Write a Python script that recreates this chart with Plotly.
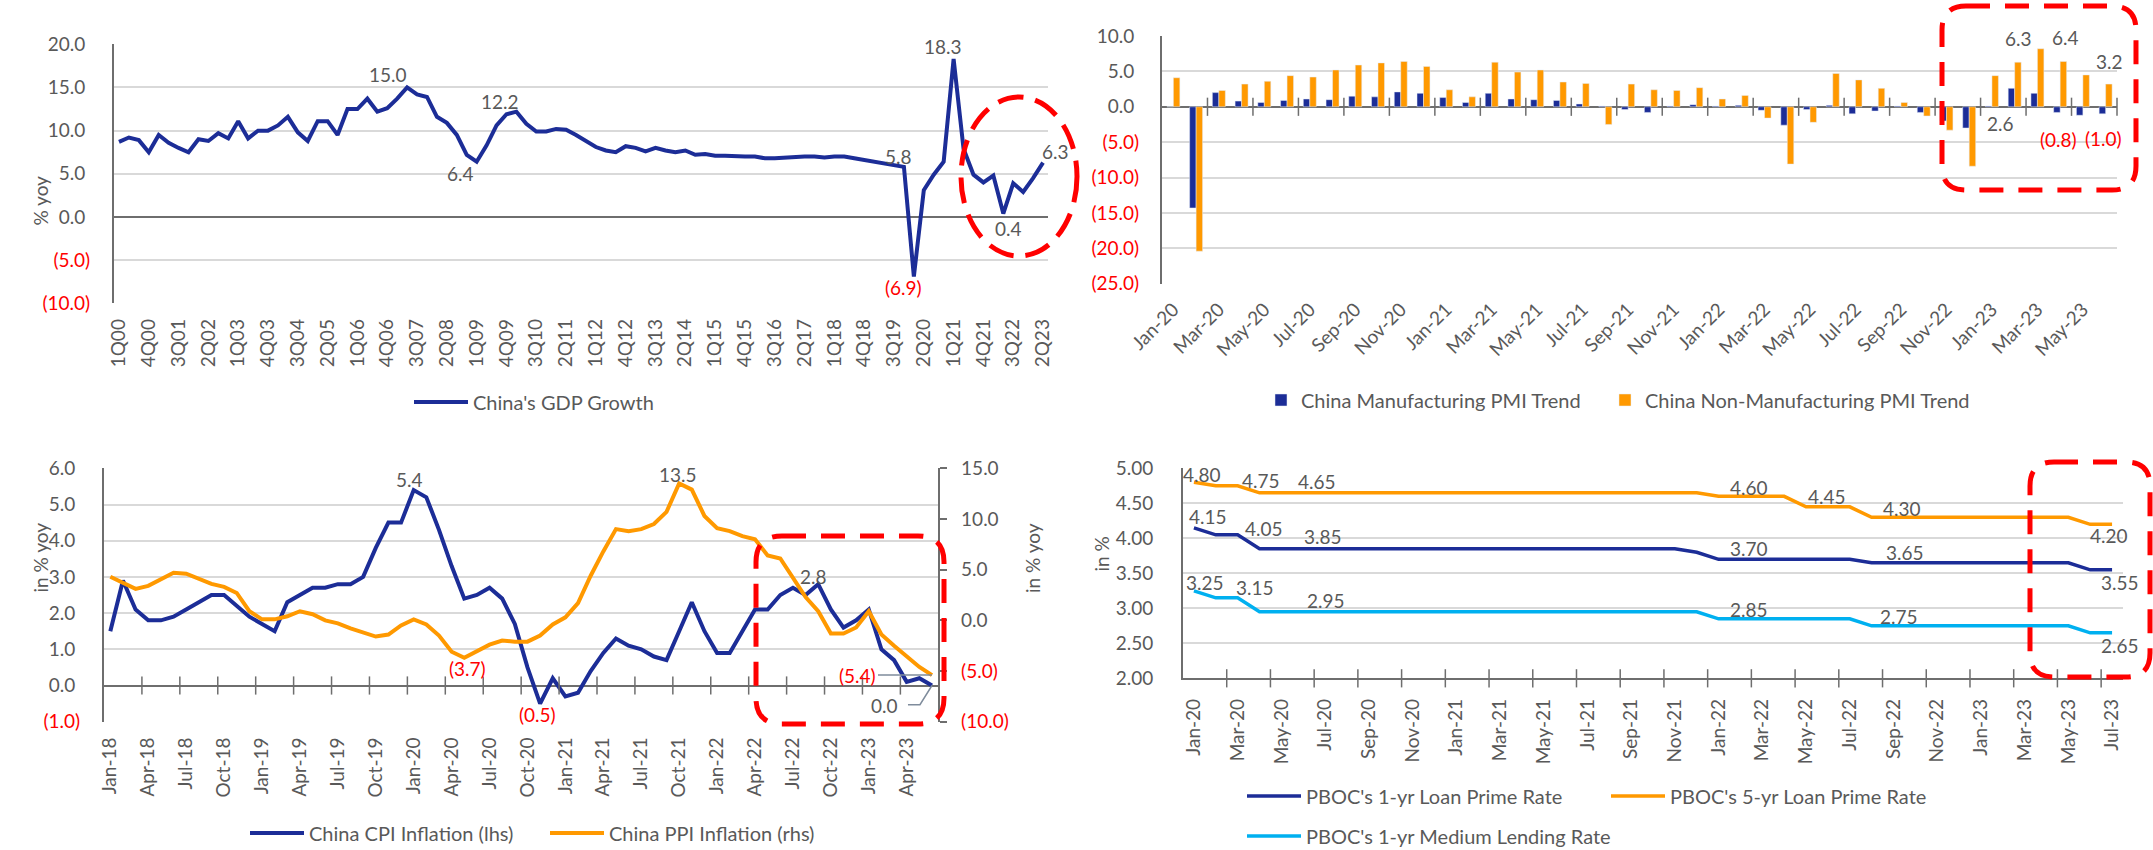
import plotly.graph_objects as go

W, H = 2153, 850
FONT = "Lato"
TXT = "#595959"
RED = "#FF0000"
NAVY = "#1C2D97"
ORANGE = "#FF9900"
SKY = "#00B0F0"
GRID = "#D9D9D9"
AXIS = "#6E6E6E"
LEADER = "#7F8C9C"
TICK_SIZE = 19
LABEL_SIZE = 19
LEGEND_SIZE = 20

MONTHS = ["Jan", "Feb", "Mar", "Apr", "May", "Jun",
          "Jul", "Aug", "Sep", "Oct", "Nov", "Dec"]

# ---------------------------------------------------------------- data
# Real GDP growth, % yoy, 1Q00 - 2Q23
gdp_quarters = [f"{q}Q{y:02d}" for y in range(0, 24) for q in range(1, 5)][:94]
gdp_growth = [
    8.7, 9.2, 8.9, 7.5, 9.5, 8.6, 8.0, 7.5, 9.0, 8.8, 9.7, 9.1,
    11.1, 9.1, 10.0, 10.0, 10.6, 11.6, 9.8, 8.8, 11.1, 11.1, 9.5, 12.5,
    12.5, 13.7, 12.2, 12.6, 13.7, 15.0, 14.2, 13.9, 11.6, 10.9, 9.5, 7.2,
    6.4, 8.3, 10.6, 11.9, 12.2, 10.8, 9.9, 9.9, 10.2, 10.1, 9.5, 8.8,
    8.1, 7.7, 7.5, 8.2, 8.0, 7.6, 8.0, 7.7, 7.5, 7.7, 7.2, 7.3,
    7.1, 7.1, 7.0, 7.0, 7.0, 6.8, 6.8, 6.9, 7.0, 7.0, 7.0, 6.9,
    7.0, 7.0, 6.8, 6.6, 6.4, 6.1, 5.9, 5.8, -6.9, 3.1, 4.9, 6.4,
    18.3, 7.9, 4.9, 4.0, 4.8, 0.4, 3.9, 2.9, 4.5, 6.3,
]

# PMI readings minus the 50 expansion threshold, Jan-20 - Jun-23
pmi_months = [f"{m}-{y}" for y in range(20, 24) for m in MONTHS][:42]
mfg_pmi_gap = [
    0.0, -14.3, 2.0, 0.8, 0.6, 0.9, 1.1, 1.0, 1.5, 1.4, 2.1, 1.9,
    1.3, 0.6, 1.9, 1.1, 1.0, 0.9, 0.4, 0.1, -0.4, -0.8, 0.1, 0.3,
    0.1, 0.2, -0.5, -2.6, -0.4, 0.2, -1.0, -0.6, 0.1, -0.8, -2.0, -3.0,
    0.1, 2.6, 1.9, -0.8, -1.2, -1.0,
]
nonmfg_pmi_gap = [
    4.1, -20.4, 2.3, 3.2, 3.6, 4.4, 4.2, 5.2, 5.9, 6.2, 6.4, 5.7,
    2.4, 1.4, 6.3, 4.9, 5.2, 3.5, 3.3, -2.5, 3.2, 2.4, 2.3, 2.7,
    1.1, 1.6, -1.6, -8.1, -2.2, 4.7, 3.8, 2.6, 0.6, -1.3, -3.3, -8.4,
    4.4, 6.3, 8.2, 6.4, 4.5, 3.2,
]

# CPI and PPI inflation, % yoy, Jan-18 - Jun-23
infl_months = [f"{m}-{y}" for y in range(18, 24) for m in MONTHS][:66]
cpi_yoy = [
    1.5, 2.9, 2.1, 1.8, 1.8, 1.9, 2.1, 2.3, 2.5, 2.5, 2.2, 1.9,
    1.7, 1.5, 2.3, 2.5, 2.7, 2.7, 2.8, 2.8, 3.0, 3.8, 4.5, 4.5,
    5.4, 5.2, 4.3, 3.3, 2.4, 2.5, 2.7, 2.4, 1.7, 0.5, -0.5, 0.2,
    -0.3, -0.2, 0.4, 0.9, 1.3, 1.1, 1.0, 0.8, 0.7, 1.5, 2.3, 1.5,
    0.9, 0.9, 1.5, 2.1, 2.1, 2.5, 2.7, 2.5, 2.8, 2.1, 1.6, 1.8,
    2.1, 1.0, 0.7, 0.1, 0.2, 0.0,
]
ppi_yoy = [
    4.3, 3.7, 3.1, 3.4, 4.1, 4.7, 4.6, 4.1, 3.6, 3.3, 2.7, 0.9,
    0.1, 0.1, 0.4, 0.9, 0.6, 0.0, -0.3, -0.8, -1.2, -1.6, -1.4, -0.5,
    0.1, -0.4, -1.5, -3.1, -3.7, -3.0, -2.4, -2.0, -2.1, -2.1, -1.5, -0.4,
    0.3, 1.7, 4.4, 6.8, 9.0, 8.8, 9.0, 9.5, 10.7, 13.5, 12.9, 10.3,
    9.1, 8.8, 8.3, 8.0, 6.4, 6.1, 4.2, 2.3, 0.9, -1.3, -1.3, -0.7,
    0.9, -1.4, -2.5, -3.6, -4.6, -5.4,
]

# PBOC policy rates, %, Jan-20 - Jul-23
rate_months = [f"{m}-{y}" for y in range(20, 24) for m in MONTHS][:43]
lpr_1y = [
    4.15, 4.05, 4.05, 3.85, 3.85, 3.85, 3.85, 3.85, 3.85, 3.85, 3.85, 3.85,
    3.85, 3.85, 3.85, 3.85, 3.85, 3.85, 3.85, 3.85, 3.85, 3.85, 3.85, 3.80,
    3.70, 3.70, 3.70, 3.70, 3.70, 3.70, 3.70, 3.65, 3.65, 3.65, 3.65, 3.65,
    3.65, 3.65, 3.65, 3.65, 3.65, 3.55, 3.55,
]
lpr_5y = [
    4.80, 4.75, 4.75, 4.65, 4.65, 4.65, 4.65, 4.65, 4.65, 4.65, 4.65, 4.65,
    4.65, 4.65, 4.65, 4.65, 4.65, 4.65, 4.65, 4.65, 4.65, 4.65, 4.65, 4.65,
    4.60, 4.60, 4.60, 4.60, 4.45, 4.45, 4.45, 4.30, 4.30, 4.30, 4.30, 4.30,
    4.30, 4.30, 4.30, 4.30, 4.30, 4.20, 4.20,
]
mlf_1y = [
    3.25, 3.15, 3.15, 2.95, 2.95, 2.95, 2.95, 2.95, 2.95, 2.95, 2.95, 2.95,
    2.95, 2.95, 2.95, 2.95, 2.95, 2.95, 2.95, 2.95, 2.95, 2.95, 2.95, 2.95,
    2.85, 2.85, 2.85, 2.85, 2.85, 2.85, 2.85, 2.75, 2.75, 2.75, 2.75, 2.75,
    2.75, 2.75, 2.75, 2.75, 2.75, 2.65, 2.65,
]


# ---------------------------------------------------------------- helpers
def px(xp):
    return xp / W


def py(yp):
    return 1 - yp / H


def dom_x(a, b):
    return [a / W, b / W]


def dom_y(top, bottom):
    return [1 - bottom / H, 1 - top / H]


def num(v, nd=1):
    s = f"{abs(v):.{nd}f}"
    return f"({s})" if v < 0 else s


def tick_text(v, nd=1):
    if v < 0:
        return f'<span style="color:{RED}">{num(v, nd)}</span>'
    return num(v, nd) + "\u00a0"


def steps(lo, hi, step):
    n = int(round((hi - lo) / step))
    return [round(lo + k * step, 4) for k in range(n + 1)]


def cat_axis(domain, n, every, labels, angle, anchor, standoff=11):
    idx = list(range(0, n, every))
    return dict(
        domain=domain, range=[-0.5, n - 0.5], anchor=anchor,
        tickmode="array", tickvals=idx, ticktext=[labels[i] for i in idx],
        tickangle=angle, ticks="", showgrid=False, zeroline=False,
        showline=False, ticklabelstandoff=standoff,
        tickfont=dict(size=TICK_SIZE, color=TXT, family=FONT), fixedrange=True,
    )


def val_axis(domain, lo, hi, step, nd, anchor, standoff=18, zero=True):
    vals = steps(lo, hi, step)
    return dict(
        domain=domain, range=[lo, hi], anchor=anchor,
        tickmode="array", tickvals=vals, ticktext=[tick_text(v, nd) for v in vals],
        ticks="", showgrid=True, gridcolor=GRID, gridwidth=1.5,
        zeroline=zero, zerolinecolor=AXIS, zerolinewidth=2,
        showline=True, linecolor=AXIS, linewidth=2,
        ticklabelstandoff=standoff,
        tickfont=dict(size=TICK_SIZE, color=TXT, family=FONT), fixedrange=True,
    )


def legend_at(xp, yp, iw=54):
    return dict(
        x=px(xp), y=py(yp), xanchor="left", yanchor="middle",
        orientation="v", bgcolor="rgba(0,0,0,0)", borderwidth=0,
        itemwidth=iw, font=dict(size=LEGEND_SIZE, color=TXT, family=FONT),
    )


def rounded_rect(x0, y0, x1, y1, r):
    """SVG path (paper units) for a rounded rectangle given in pixels."""
    def p(a, b):
        return f"{px(a):.5f},{py(b):.5f}"
    return (
        f"M {p(x0 + r, y0)} L {p(x1 - r, y0)} Q {p(x1, y0)} {p(x1, y0 + r)} "
        f"L {p(x1, y1 - r)} Q {p(x1, y1)} {p(x1 - r, y1)} "
        f"L {p(x0 + r, y1)} Q {p(x0, y1)} {p(x0, y1 - r)} "
        f"L {p(x0, y0 + r)} Q {p(x0, y0)} {p(x0 + r, y0)} Z"
    )


def tick_marks(positions, level, xa, ya):
    return go.Scatter(
        x=positions, y=[level] * len(positions), mode="markers",
        marker=dict(symbol="line-ns", size=13, color=AXIS,
                    line=dict(width=1.5, color=AXIS)),
        xaxis=xa, yaxis=ya, hoverinfo="skip", showlegend=False,
        cliponaxis=False,
    )


fig = go.Figure()

# ---------------------------------------------------------------- chart 1: GDP
fig.add_trace(go.Scatter(
    x=list(range(len(gdp_growth))), y=gdp_growth, mode="lines",
    line=dict(color=NAVY, width=4), name="China's GDP Growth",
    xaxis="x", yaxis="y", legend="legend",
))

# ---------------------------------------------------------------- chart 2: PMI
fig.add_trace(go.Bar(
    x=list(range(len(mfg_pmi_gap))), y=mfg_pmi_gap, marker_color=NAVY,
    name="China Manufacturing PMI Trend", xaxis="x2", yaxis="y2",
    legend="legend2",
))
fig.add_trace(go.Bar(
    x=list(range(len(nonmfg_pmi_gap))), y=nonmfg_pmi_gap, marker_color=ORANGE,
    name="China Non-Manufacturing PMI Trend", xaxis="x2", yaxis="y2",
    legend="legend3",
))
fig.add_trace(tick_marks([k + 0.5 for k in range(1, len(pmi_months), 2)], 0, "x2", "y2"))

# ---------------------------------------------------------------- chart 3: CPI / PPI
fig.add_trace(go.Scatter(
    x=list(range(len(cpi_yoy))), y=cpi_yoy, mode="lines",
    line=dict(color=NAVY, width=4), name="China CPI Inflation (lhs)",
    xaxis="x3", yaxis="y3", legend="legend4",
))
fig.add_trace(go.Scatter(
    x=list(range(len(ppi_yoy))), y=ppi_yoy, mode="lines",
    line=dict(color=ORANGE, width=4), name="China PPI Inflation (rhs)",
    xaxis="x3", yaxis="y5", legend="legend5",
))
fig.add_trace(tick_marks([k + 0.5 for k in range(2, len(infl_months) - 3, 3)], 0, "x3", "y3"))

# ---------------------------------------------------------------- chart 4: policy rates
for series, color, name, leg in [
    (lpr_1y, NAVY, "PBOC's 1-yr Loan Prime Rate", "legend6"),
    (lpr_5y, ORANGE, "PBOC's 5-yr Loan Prime Rate", "legend7"),
    (mlf_1y, SKY, "PBOC's 1-yr Medium Lending Rate", "legend8"),
]:
    fig.add_trace(go.Scatter(
        x=list(range(len(series))), y=series, mode="lines",
        line=dict(color=color, width=3.5), name=name,
        xaxis="x4", yaxis="y4", legend=leg,
    ))
fig.add_trace(tick_marks([k + 0.5 for k in range(1, len(rate_months), 2)], 2.0, "x4", "y4"))

# ---------------------------------------------------------------- data labels
annotations = []


def label(xa, ya, i, v, nd, dx, dy, text=None):
    annotations.append(dict(
        xref=xa, yref=ya, x=i, y=v, text=text or num(v, nd), showarrow=False,
        xshift=dx, yshift=dy,
        font=dict(size=LABEL_SIZE, family=FONT, color=RED if v < 0 else TXT),
    ))


for i, dx, dy in [(29, -19, 13), (40, -16, 10), (36, -16, -12), (79, -5, 10),
                  (80, -10, -11), (84, -11, 12), (89, 5, -15), (93, 12, 11)]:
    label("x", "y", i, gdp_growth[i], 1, dx, dy)

for i, dx, dy in [(37, 4, 24), (39, 5, 24), (41, 4, 23)]:
    label("x2", "y2", i, nonmfg_pmi_gap[i], 1, dx, dy)
for i, dx, dy in [(37, -14, -35), (39, -2, -27), (41, -2, -25)]:
    label("x2", "y2", i, mfg_pmi_gap[i], 1, dx, dy)

for i, dx, dy in [(24, -4, 11), (34, -3, -11), (56, -5, 8)]:
    label("x3", "y3", i, cpi_yoy[i], 1, dx, dy)
for i, dx, dy in [(28, 3, -11), (45, -1, 9)]:
    label("x3", "y5", i, ppi_yoy[i], 1, dx, dy)

last = len(ppi_yoy) - 1
annotations.append(dict(
    xref="x3", yref="y5", x=last, y=ppi_yoy[last], text=num(ppi_yoy[last]),
    showarrow=True, ax=-74, ay=0, arrowhead=0, arrowwidth=1.5,
    arrowcolor=LEADER, standoff=0,
    font=dict(size=LABEL_SIZE, family=FONT, color=RED),
))
label("x3", "y3", last, cpi_yoy[last], 1, -47, -20)

for i, dx, dy in [(0, 8, 8), (2, 23, 5), (5, 14, 11), (25, 9, 9), (29, -1, 10),
                  (32, 9, 9), (42, -3, -11)]:
    label("x4", "y4", i, lpr_5y[i], 2, dx, dy)
for i, dx, dy in [(0, 14, 11), (2, 26, 6), (5, 20, 12), (25, 9, 11), (32, 12, 10),
                  (42, 8, -13)]:
    label("x4", "y4", i, lpr_1y[i], 2, dx, dy)
for i, dx, dy in [(0, 11, 8), (2, 17, 10), (5, 23, 11), (25, 9, 9), (32, 6, 9),
                  (42, 8, -13)]:
    label("x4", "y4", i, mlf_1y[i], 2, dx, dy)

# axis titles
for text, xp, yp in [("% yoy", 26, 174), ("in % yoy", 26, 595),
                     ("in % yoy", 1032, 595), ("in %", 1101, 574)]:
    annotations.append(dict(
        xref="paper", yref="paper", x=px(xp), y=py(yp), text=text,
        textangle=-90, showarrow=False,
        font=dict(size=TICK_SIZE, family=FONT, color=TXT),
    ))

# ---------------------------------------------------------------- highlight outlines
hl = dict(color=RED, width=5, dash="24px,15px")
shapes = [
    dict(type="circle", xref="paper", yref="paper",
         x0=px(961), x1=px(1077), y0=py(256), y1=py(97),
         line=dict(color=RED, width=5, dash="26px,12px")),
    dict(type="path", xref="paper", yref="paper",
         path=rounded_rect(1942, 6, 2136, 190, 24), line=hl),
    dict(type="path", xref="paper", yref="paper",
         path=rounded_rect(756, 536, 944, 724, 26), line=hl),
    dict(type="path", xref="paper", yref="paper",
         path=rounded_rect(2030, 462, 2150, 677, 24), line=hl),
    # leader from the final CPI reading to its label
    dict(type="path", xref="x3", yref="y3",
         path=(f"M {last - 1.9},{cpi_yoy[last] - 0.53} "
               f"L {last - 0.95},{cpi_yoy[last] - 0.53} L {last},{cpi_yoy[last]}"),
         line=dict(color=LEADER, width=1.5)),
]

# ---------------------------------------------------------------- layout
fig.update_layout(
    width=W, height=H, autosize=False,
    margin=dict(l=0, r=0, t=0, b=0, autoexpand=False),
    paper_bgcolor="white", plot_bgcolor="white",
    font=dict(family=FONT, size=TICK_SIZE, color=TXT),
    barmode="group", bargap=0.43, bargroupgap=0,
    hovermode=False,
    xaxis=cat_axis(dom_x(114, 1048), len(gdp_quarters), 3, gdp_quarters, -90, "y"),
    yaxis=val_axis(dom_y(44.3, 303.3), -10, 20, 5, 1, "x"),
    xaxis2=cat_axis(dom_x(1162, 2117), len(pmi_months), 2, pmi_months, -45, "y2", 10),
    yaxis2=val_axis(dom_y(36, 283.7), -25, 10, 5, 1, "x2", 17),
    xaxis3=cat_axis(dom_x(104, 938.3), len(infl_months), 3, infl_months, -90, "y3"),
    yaxis3=val_axis(dom_y(468.3, 721.7), -1, 6, 1, 1, "x3"),
    yaxis5=dict(
        overlaying="y3", side="right", anchor="x3", range=[-10, 15],
        tickmode="array", tickvals=steps(-10, 15, 5),
        ticktext=[num(v) if v >= 0 else tick_text(v) for v in steps(-10, 15, 5)],
        ticks="outside", ticklen=7, tickwidth=1.5, tickcolor=AXIS,
        showline=True, linecolor=AXIS, linewidth=2, showgrid=False,
        zeroline=False, ticklabelstandoff=10,
        tickfont=dict(size=TICK_SIZE, color=TXT, family=FONT), fixedrange=True,
    ),
    xaxis4=cat_axis(dom_x(1183, 2123), len(rate_months), 2, rate_months, -90, "y4"),
    yaxis4=val_axis(dom_y(468.3, 678.3), 2, 5, 0.5, 2, "x4", 19, zero=False),
    legend=legend_at(409, 402),
    legend2=legend_at(1261, 400, 30),
    legend3=legend_at(1605, 400, 30),
    legend4=legend_at(245, 833),
    legend5=legend_at(545, 833),
    legend6=legend_at(1242, 796),
    legend7=legend_at(1606, 796),
    legend8=legend_at(1242, 836),
    annotations=annotations,
    shapes=shapes,
)
fig.update_layout(xaxis4=dict(showline=True, linecolor=AXIS, linewidth=2))

fig.write_html("out.html", include_plotlyjs=True, config={"displayModeBar": False})
